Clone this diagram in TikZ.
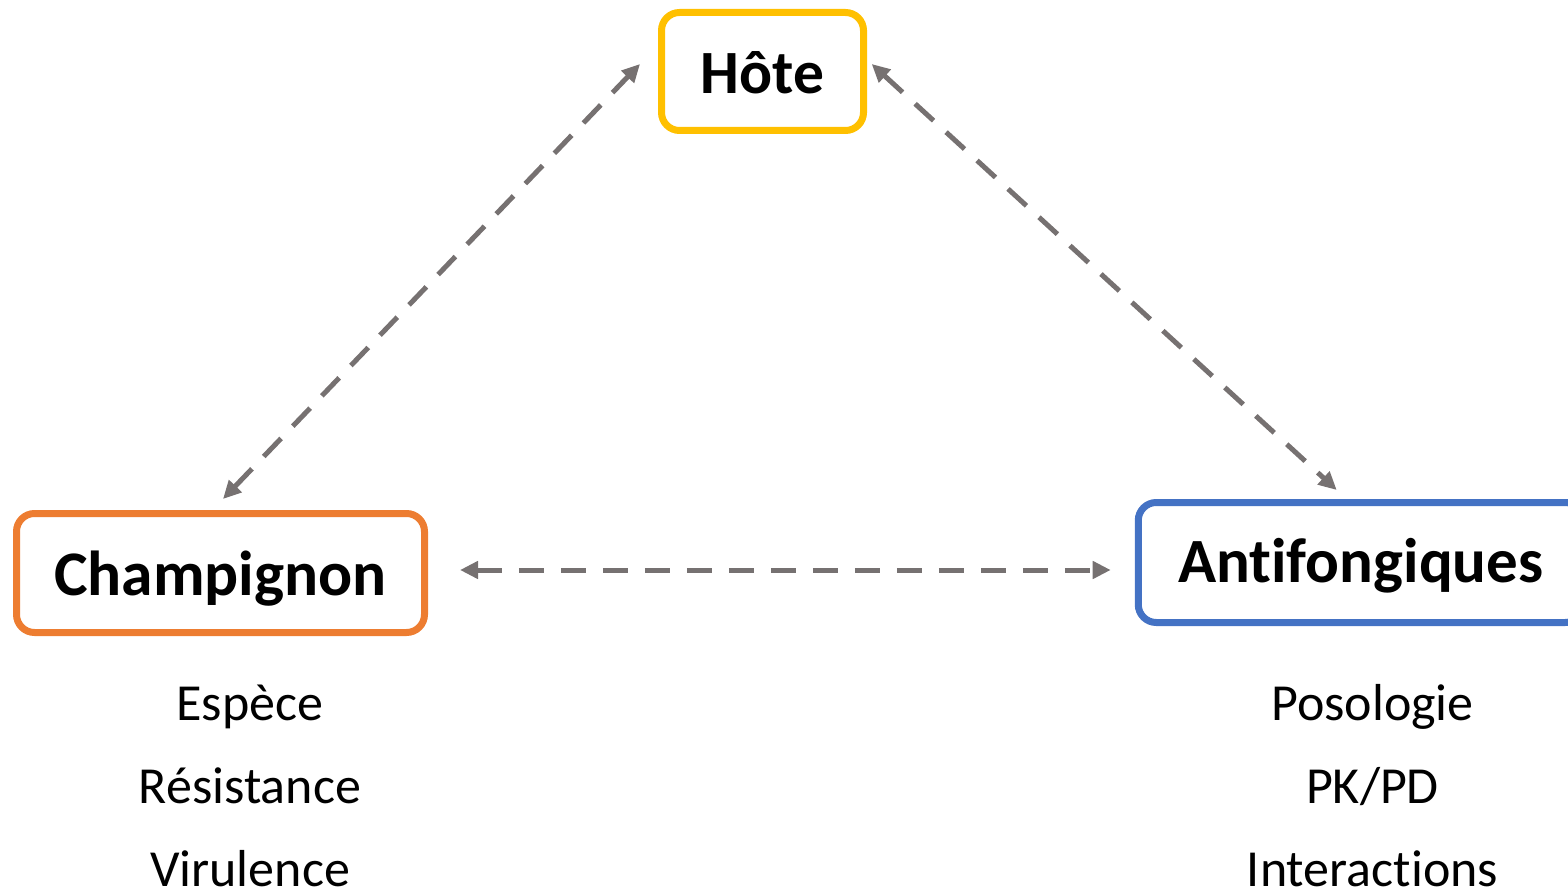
\documentclass[tikz,border=0pt]{standalone}
\usepackage{fontspec}
\setmainfont[Ligatures={NoCommon}]{Carlito}
\usetikzlibrary{arrows.meta}
\definecolor{hostc}{HTML}{FFC000}
\definecolor{fungc}{HTML}{ED7D31}
\definecolor{drugc}{HTML}{4472C4}
\definecolor{arrc}{HTML}{767171}
\tikzset{
  keybox/.style={rounded corners=18pt, line width=7pt, fill=white, inner sep=0pt, text depth=0pt,
    font=\bfseries\fontsize{63}{70}\selectfont},
  linkarrow/.style={draw=arrc, line width=5pt, dash pattern=on 25pt off 17pt,
    {Triangle[length=18pt,width=17pt]}-{Triangle[length=18pt,width=17pt]}},
  factor/.style={anchor=base, inner sep=0pt, font=\fontsize{52}{60}\selectfont}
}
\begin{document}
\begin{tikzpicture}[x=1pt,y=-1pt]
\useasboundingbox (0,0) rectangle (1568,893);
\clip (0,0) rectangle (1568,893);
\node[keybox, draw=hostc, minimum width=202pt, minimum height=118pt, text height=44pt,
  font=\bfseries\fontsize{61.5}{70}\selectfont] (host) at (762.5,71.5) {Hôte};
\node[keybox, draw=fungc, minimum width=408pt, minimum height=119pt, text height=44pt,
  font=\bfseries\fontsize{63.5}{70}\selectfont] (fung) at (220.5,573) {Champignon};
\node[keybox, draw=drugc, minimum width=445pt, minimum height=120pt, text height=39pt] (drug) at (1360.75,562.5) {Antifongiques};
\coordinate (hostL) at (640,64);
\coordinate (hostR) at (871.7,64);
\coordinate (fungT) at (223,499);
\coordinate (fungR) at (460,570);
\coordinate (drugT) at (1336.7,490);
\coordinate (drugL) at (1110.7,570);
\draw[linkarrow] (fungT) -- (hostL);
\draw[linkarrow] (hostR) -- (drugT);
\draw[linkarrow] (fungR) -- (drugL);
\node[factor] (f1) at (250,720) {Espèce};
\node[factor] (f2) at (250,803) {Résistance};
\node[factor] (f3) at (250,886) {Virulence};
\node[factor] (d1) at (1372.5,720) {Posologie};
\node[factor] (d2) at (1372.5,803) {PK/PD};
\node[factor] (d3) at (1372.5,886) {Interactions};
\end{tikzpicture}
\end{document}
